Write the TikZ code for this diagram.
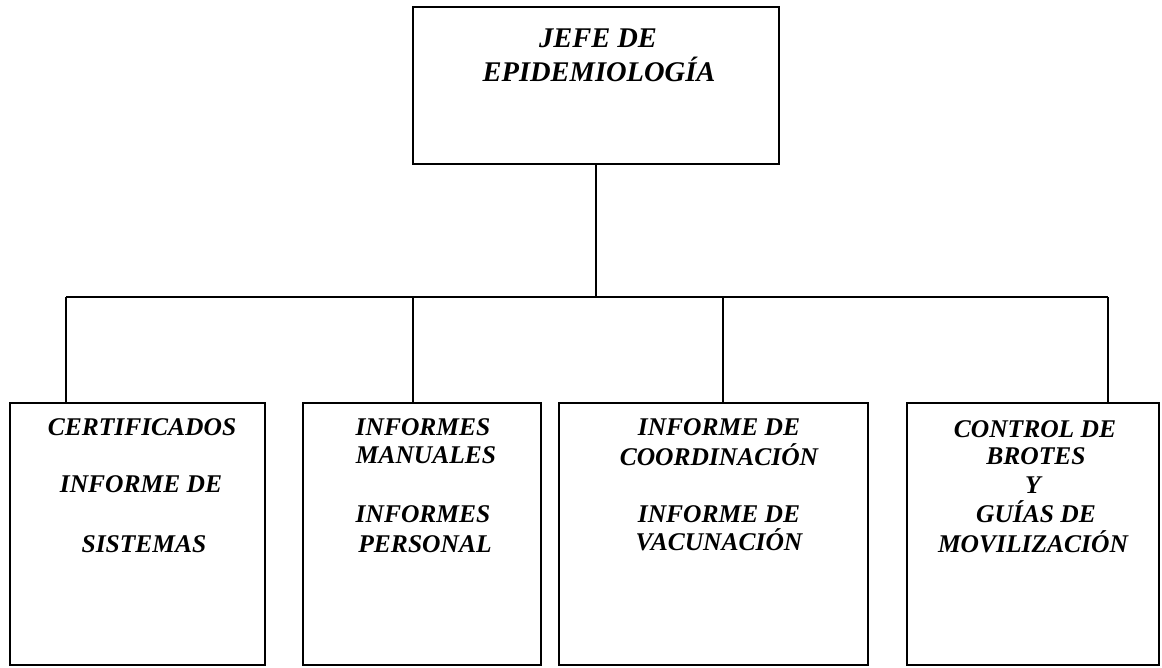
\documentclass[tikz,border=0pt]{standalone}
\usepackage{fontspec}
\setmainfont{Liberation Serif}
\begin{document}
\begin{tikzpicture}[x=1pt,y=-1pt,
  box/.style={draw=black,line width=1.8pt,inner sep=0pt},
  conn/.style={draw=black,line width=1.6pt},
  lbl/.style={anchor=base,inner sep=0pt,font=\fontsize{25.5}{30}\selectfont\bfseries\itshape},
  toplbl/.style={anchor=base,inner sep=0pt,font=\fontsize{28.5}{34}\selectfont\bfseries\itshape}]
\useasboundingbox[fill=white] (0,0) rectangle (1162,667);
% boxes
\node[box,minimum width=366pt,minimum height=157pt] (top) at (596,85.5) {};
\node[box,minimum width=255pt,minimum height=262pt] (b1) at (137.5,534) {};
\node[box,minimum width=238pt,minimum height=262pt] (b2) at (422,534) {};
\node[box,minimum width=309pt,minimum height=262pt] (b3) at (713.5,534) {};
\node[box,minimum width=252pt,minimum height=262pt] (b4) at (1033,534) {};
% connector coordinates
\coordinate (d1) at (66,297);
\coordinate (d2) at (413,297);
\coordinate (d3) at (723,297);
\coordinate (d4) at (1108,297);
\draw[conn] (top.south) -- (top.south |- d1);
\draw[conn] (d1) -- (d4);
\draw[conn] (d1) -- (d1 |- b1.north);
\draw[conn] (d2) -- (d2 |- b2.north);
\draw[conn] (d3) -- (d3 |- b3.north);
\draw[conn] (d4) -- (d4 |- b4.north);
% top texts
\node[toplbl] (t1) at (598,47) {JEFE DE};
\node[toplbl] (t2) at (599,81) {EPIDEMIOLOGÍA};
% box 1
\node[lbl] (a1) at (142,435) {CERTIFICADOS};
\node[lbl] (a2) at (141,492) {INFORME DE};
\node[lbl] (a3) at (144,552) {SISTEMAS};
% box 2
\node[lbl] (c1) at (423,435) {INFORMES};
\node[lbl] (c2) at (426,463) {MANUALES};
\node[lbl] (c3) at (423,522) {INFORMES};
\node[lbl] (c4) at (425,552) {PERSONAL};
% box 3
\node[lbl] (e1) at (719,435) {INFORME DE};
\node[lbl] (e2) at (719,465) {COORDINACIÓN};
\node[lbl] (e3) at (719,522) {INFORME DE};
\node[lbl] (e4) at (719,550) {VACUNACIÓN};
% box 4
\node[lbl] (g1) at (1035,437) {CONTROL DE};
\node[lbl] (g2) at (1036,464) {BROTES};
\node[lbl] (g3) at (1033,493) {Y};
\node[lbl] (g4) at (1036,522) {GUÍAS DE};
\node[lbl] (g5) at (1033,552) {MOVILIZACIÓN};
\end{tikzpicture}
\end{document}
